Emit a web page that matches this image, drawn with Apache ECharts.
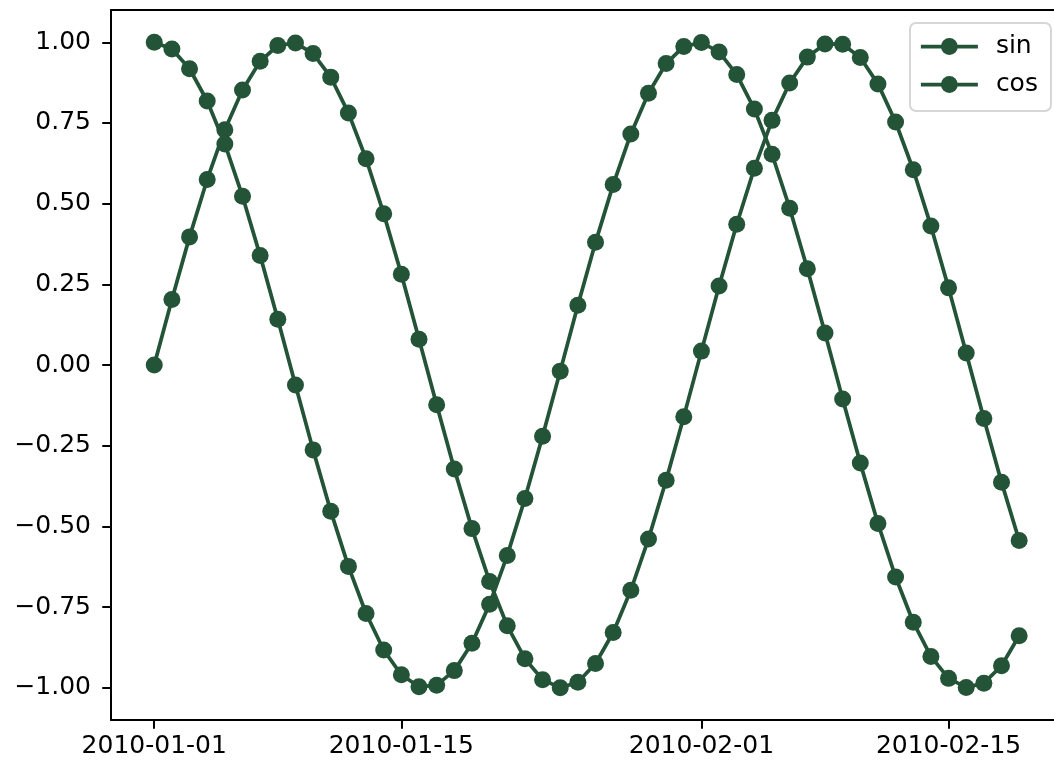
<!DOCTYPE html>
<html>
<head>
<meta charset="utf-8">
<script src="https://cdn.jsdelivr.net/npm/echarts@6/dist/echarts.min.js"></script>
<style>
html,body{margin:0;padding:0;background:#fff;}
#chart{width:1054px;height:767px;}
</style>
</head>
<body>
<div id="chart"></div>
<script>
const dates = [
'2010-01-01','2010-01-02','2010-01-03','2010-01-04','2010-01-05','2010-01-06','2010-01-07','2010-01-08','2010-01-09','2010-01-10',
'2010-01-11','2010-01-12','2010-01-13','2010-01-14','2010-01-15','2010-01-16','2010-01-17','2010-01-18','2010-01-19','2010-01-20',
'2010-01-21','2010-01-22','2010-01-23','2010-01-24','2010-01-25','2010-01-26','2010-01-27','2010-01-28','2010-01-29','2010-01-30',
'2010-01-31','2010-02-01','2010-02-02','2010-02-03','2010-02-04','2010-02-05','2010-02-06','2010-02-07','2010-02-08','2010-02-09',
'2010-02-10','2010-02-11','2010-02-12','2010-02-13','2010-02-14','2010-02-15','2010-02-16','2010-02-17','2010-02-18','2010-02-19'
];
const sinValues = [0, 0.203, 0.397, 0.575, 0.729, 0.852, 0.941, 0.990, 0.998, 0.965,
  0.892, 0.781, 0.639, 0.469, 0.281, 0.080, -0.123, -0.322, -0.507, -0.671,
  -0.808, -0.910, -0.975, -1.000, -0.983, -0.925, -0.829, -0.698, -0.539, -0.357,
  -0.160, 0.043, 0.245, 0.436, 0.610, 0.758, 0.874, 0.954, 0.995, 0.994,
  0.953, 0.871, 0.753, 0.605, 0.431, 0.239, 0.037, -0.166, -0.363, -0.544];
const cosValues = [1, 0.979, 0.918, 0.818, 0.685, 0.523, 0.339, 0.142, -0.062, -0.263,
  -0.453, -0.624, -0.770, -0.883, -0.960, -0.997, -0.992, -0.947, -0.862, -0.741,
  -0.590, -0.414, -0.221, -0.019, 0.185, 0.380, 0.559, 0.716, 0.842, 0.934,
  0.987, 0.999, 0.970, 0.900, 0.793, 0.653, 0.486, 0.298, 0.099, -0.105,
  -0.304, -0.491, -0.657, -0.797, -0.903, -0.971, -0.999, -0.986, -0.932, -0.839];
const xTickLabels = ['2010-01-01','2010-01-15','2010-02-01','2010-02-15'];
const yTickValues = [-1, -0.75, -0.5, -0.25, 0, 0.25, 0.5, 0.75, 1];

const DAY = 86400000;
const t0 = Date.parse(dates[0]);
const dayOf = d => Math.round((Date.parse(d) - t0) / DAY);
const xTickDays = xTickLabels.map(dayOf);
const labelByDay = {};
xTickLabels.forEach((l, i) => { labelByDay[xTickDays[i]] = l; });

const color = '#245437';
const font = 'DejaVu Sans';
const lastDay = dayOf(dates[dates.length - 1]);
const pad = 0.05 * lastDay;

const chart = echarts.init(document.getElementById('chart'), null, {renderer: 'canvas'});
chart.setOption({
  animation: false,
  backgroundColor: '#fff',
  textStyle: {fontFamily: font},
  grid: {left: 111, top: 10, width: 951.4, height: 710, outerBoundsMode: 'none', containLabel: false, show: false},
  legend: {
    left: 910, top: 23, orient: 'vertical',
    padding: [11, 13, 14, 9],
    itemWidth: 57, itemHeight: 21, itemGap: 13,
    borderColor: '#d6d6d6', borderWidth: 2, borderRadius: 6,
    backgroundColor: 'rgba(255,255,255,0.8)',
    lineStyle: {width: 3.75},
    textStyle: {fontFamily: font, fontSize: 25, color: '#000', lineHeight: 25, padding: [0, 0, 0, 13]},
    data: ['sin', 'cos']
  },
  xAxis: [{
    type: 'value',
    min: -pad, max: lastDay + pad,
    axisLine: {show: true, onZero: false, lineStyle: {color: '#000', width: 2}},
    axisTick: {show: true, length: 8.75, lineStyle: {color: '#000', width: 2}, customValues: xTickDays},
    axisLabel: {show: true, customValues: xTickDays, margin: 14, fontSize: 25, color: '#000', fontFamily: font,
      formatter: v => labelByDay[Math.round(v)] || ''},
    splitLine: {show: false}
  }, {
    type: 'value', position: 'top',
    min: -pad, max: lastDay + pad,
    axisLine: {show: true, onZero: false, lineStyle: {color: '#000', width: 2}},
    axisTick: {show: false}, axisLabel: {show: false}, splitLine: {show: false}
  }],
  yAxis: {
    type: 'value',
    min: -1.1, max: 1.1,
    axisLine: {show: true, onZero: false, lineStyle: {color: '#000', width: 2}},
    axisTick: {show: true, length: 8.75, lineStyle: {color: '#000', width: 2}, customValues: yTickValues},
    axisLabel: {show: true, customValues: yTickValues, margin: 20, fontSize: 25, color: '#000', fontFamily: font,
      formatter: v => v.toFixed(2).replace('-', '\u2212')},
    splitLine: {show: false}
  },
  series: [
    {name: 'sin', type: 'line', xAxisIndex: 0, data: dates.map((d, i) => [dayOf(d), sinValues[i]]),
     symbol: 'circle', symbolSize: 17, showAllSymbol: true,
     itemStyle: {color: color}, lineStyle: {color: color, width: 3.75}},
    {name: 'cos', type: 'line', xAxisIndex: 0, data: dates.map((d, i) => [dayOf(d), cosValues[i]]),
     symbol: 'circle', symbolSize: 17, showAllSymbol: true,
     itemStyle: {color: color}, lineStyle: {color: color, width: 3.75}}
  ]
});
</script>
</body>
</html>
